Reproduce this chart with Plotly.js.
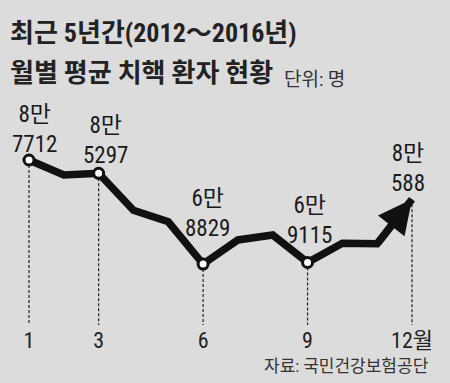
<!DOCTYPE html>
<html><head><meta charset="utf-8">
<script src="https://cdn.plot.ly/plotly-3.0.1.min.js"></script>
<style>html,body{margin:0;padding:0;background:#dcdcdc;}#chart{width:450px;height:383px;}</style>
</head><body><div id="chart"></div>
<script>
const months = [1,2,3,4,5,6,7,8,9,10,11,12];
const patients = [87712, 85000, 85297, 78600, 76500, 68829, 73200, 74100, 69115, 72600, 72500, 80588];
const labelMonths = [1, 3, 6, 9, 12];
const labelTexts = ['8만<br>7712', '8만<br>5297', '6만<br>8829', '6만<br>9115', '8만<br>588'];
const tickVals = [1, 3, 6, 9, 12];
const tickTexts = ['1', '3', '6', '9', '12월'];
const markerMonths = [1, 3, 6, 9];

const FONT = '"Roboto Condensed", "Noto Sans CJK KR", sans-serif';
const valOf = m => patients[months.indexOf(m)];
const labelShift = [0, 2, 20, 11, 0];
const labelXShift = [5, 7, 4, 2, -4];
const py = p => (325 - p) / 225;

const shapes = labelMonths.map(m => ({
  type: 'line', xref: 'x', yref: 'y', x0: m, x1: m, y0: valOf(m), y1: 57400,
  line: {color: '#222', width: 1.2, dash: '3px,2px'}, layer: 'below'
}));

const annotations = labelMonths.map((m, i) => ({
  x: m, y: valOf(m), xref: 'x', yref: 'y', text: labelTexts[i], showarrow: false,
  yanchor: 'bottom', yshift: labelShift[i], xshift: labelXShift[i], align: 'center',
  font: {family: FONT, size: 23, color: '#1a1a1a'}
}));

annotations.push({
  x: 12, y: patients[11], ax: 11, ay: patients[10], xref: 'x', yref: 'y', axref: 'x', ayref: 'y',
  text: '', showarrow: true, arrowhead: 2, arrowsize: 0.9, arrowwidth: 7.5, arrowcolor: '#111', standoff: 0
});

annotations.push({xref: 'paper', yref: 'paper', x: 8/450, y: py(33), xanchor: 'left', yanchor: 'middle', showarrow: false,
  text: '<b>최근 5년간(2012～2016년)</b>', font: {family: FONT, size: 26, color: '#222'}});
annotations.push({xref: 'paper', yref: 'paper', x: 8/450, y: py(73), xanchor: 'left', yanchor: 'middle', showarrow: false,
  text: '<b>월별 평균 치핵 환자 현황</b>', font: {family: FONT, size: 26, color: '#222'}});
annotations.push({xref: 'paper', yref: 'paper', x: 282/450, y: py(79), xanchor: 'left', yanchor: 'middle', showarrow: false,
  text: '단위: 명', font: {family: FONT, size: 19, color: '#333'}});
annotations.push({xref: 'paper', yref: 'paper', x: 431/450, y: py(366), xanchor: 'right', yanchor: 'middle', showarrow: false,
  text: '자료: 국민건강보험공단', font: {family: FONT, size: 17, color: '#333'}});

const traces = [
  {x: months, y: patients, type: 'scatter', mode: 'lines', line: {color: '#111', width: 7.5}, hoverinfo: 'none'},
  {x: markerMonths, y: markerMonths.map(valOf), type: 'scatter', mode: 'markers',
   marker: {size: 10, color: '#fff', line: {color: '#111', width: 3}}, hoverinfo: 'none'}
];

const layout = {
  width: 450, height: 383,
  margin: {l: 0, r: 0, t: 100, b: 58},
  paper_bgcolor: '#dcdcdc', plot_bgcolor: '#dcdcdc',
  showlegend: false,
  xaxis: {range: [0.167, 13.091], showgrid: false, zeroline: false, showline: false,
          tickvals: tickVals, ticktext: tickTexts, ticks: '', ticklen: 0,
          tickfont: {family: FONT, size: 22, color: '#222'}, fixedrange: true},
  yaxis: {range: [57766, 98601], visible: false, showgrid: false, zeroline: false, fixedrange: true},
  shapes: shapes,
  annotations: annotations
};

Plotly.newPlot('chart', traces, layout, {displayModeBar: false, staticPlot: true});
</script></body></html>
